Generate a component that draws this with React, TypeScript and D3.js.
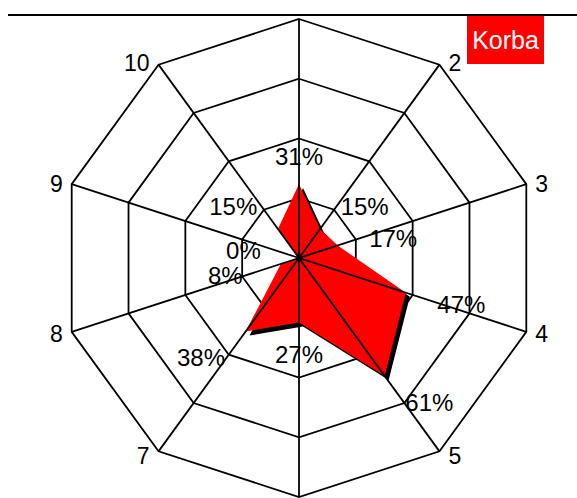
import React from "react";
import * as d3 from "d3";

const categories = ["1", "2", "3", "4", "5", "6", "7", "8", "9", "10"];
const values = [31, 15, 17, 47, 61, 27, 38, 8, 0, 15];
const ringLevels = [25, 50, 75, 100];
const seriesName = "Korba";

const W = 577;
const H = 498;
const cx = 299;
const cy = 258;
const R = 239;
const FONT = "'Liberation Sans', Arial, sans-serif";

export default function App() {
  const r = d3.scaleLinear().domain([0, 100]).range([0, R]);
  const n = categories.length;
  const ang = d3.scaleLinear().domain([0, n]).range([0, 2 * Math.PI]);
  const pt = (i: number, v: number): [number, number] => {
    const a = ang(i);
    return [cx + r(v) * Math.sin(a), cy - r(v) * Math.cos(a)];
  };
  const closed = d3.line().curve(d3.curveLinearClosed);

  const rings = ringLevels.map((lv) => closed(categories.map((_, i) => pt(i, lv))) as string);
  const dataPath = closed(values.map((v, i) => pt(i, v))) as string;

  const axisLabels = categories
    .map((c, i) => {
      const a = ang(i);
      const s = Math.sin(a);
      const co = Math.cos(a);
      const [x, y] = pt(i, 100);
      const side = Math.abs(s) < 0.1 ? 0 : Math.sign(s);
      return {
        c,
        x: x + side * 9,
        y: y - co * 4 + 1 + 23 * 0.36,
        anchor: side > 0 ? "start" : side < 0 ? "end" : "middle",
      };
    })
    .filter((d) => d.y > 30 && d.y < H);

  const valueLabels = values.map((v, i) => {
    const a = ang(i);
    const s = Math.sin(a);
    const co = Math.cos(a);
    const [x, y] = pt(i, v);
    const side = Math.abs(s) < 0.1 ? 0 : Math.sign(s);
    return {
      t: `${v}%`,
      x: x + s * 30 + side * 27,
      y: y - co * 30 + 2 + 24 * 0.36,
    };
  });

  return (
    <svg
      width={W}
      height={H}
      style={{ position: "absolute", left: 0, top: 0, background: "#fff" }}
      fontFamily={FONT}
    >
      <line x1={8} x2={W} y1={15} y2={15} stroke="#000" strokeWidth={2} />
      {rings.map((d, i) => (
        <path key={i} d={d} fill="none" stroke="#000" strokeWidth={1.8} />
      ))}
      <path d={dataPath} fill="#000" transform="translate(4,4)" />
      <path d={dataPath} fill="#ff0000" />
      {categories.map((c, i) => {
        const [x, y] = pt(i, 100);
        return <line key={c} x1={cx} y1={cy} x2={x} y2={y} stroke="#000" strokeWidth={1.8} />;
      })}
      {axisLabels.map((d) => (
        <text key={d.c} x={d.x} y={d.y} fontSize={23} textAnchor={d.anchor} fill="#000">
          {d.c}
        </text>
      ))}
      {valueLabels.map((d, i) => (
        <text key={i} x={d.x} y={d.y} fontSize={24} textAnchor="middle" fill="#000">
          {d.t}
        </text>
      ))}
      <rect x={467} y={16} width={77} height={48} fill="#ff0000" />
      <text x={505.5} y={48.5} fontSize={25} textAnchor="middle" fill="#fff">
        {seriesName}
      </text>
    </svg>
  );
}
